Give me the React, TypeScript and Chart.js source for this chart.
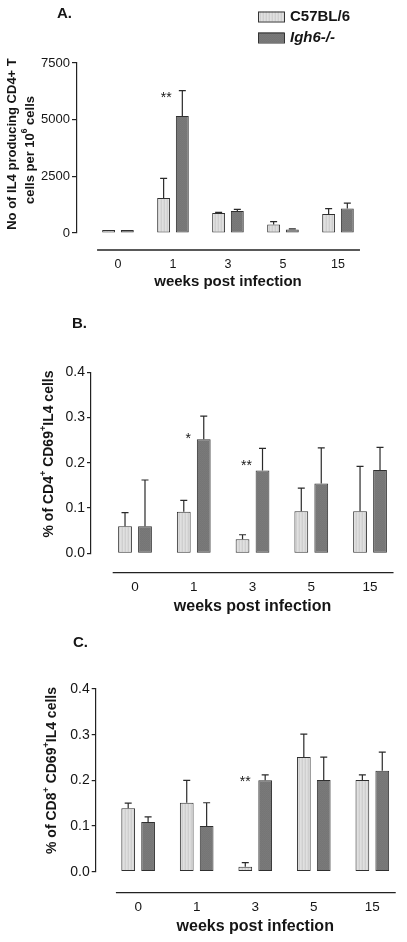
import React, { useEffect, useRef } from 'react';
import { Chart, registerables } from 'chart.js';

Chart.register(...registerables);

const FONT = "'Liberation Sans', Arial, Helvetica, sans-serif";
const INK = '#151515';
const LINE = '#222222';

// ---------- data ----------
const WEEKS = ['0', '1', '3', '5', '15'];
const SERIES = ['C57BL/6', 'Igh6-/-'];
const X_TITLE = 'weeks post infection';

// Panel A: No of IL4 producing CD4+ T cells per 10^6 cells
const A_WT = [45, 1545, 879, 379, 833];
const A_WT_SD = [0, 865, 30, 121, 243];
const A_KO = [45, 5160, 970, 152, 1076];
const A_KO_SD = [0, 1120, 75, 30, 242];
const A_Y_TICKS = [0, 2500, 5000, 7500];
const A_MARKS = [{ week: '1', value: 6130, text: '**' }];

// Panel B: % of CD4+ CD69+ IL4 cells
const B_WT = [0.06, 0.092, 0.031, 0.093, 0.093];
const B_WT_SD = [0.03, 0.025, 0.01, 0.051, 0.099];
const B_KO = [0.06, 0.252, 0.183, 0.154, 0.184];
const B_KO_SD = [0.102, 0.051, 0.049, 0.079, 0.05];
const B_MARKS = [
  { week: '1', value: 0.261, text: '*' },
  { week: '3', value: 0.201, text: '**' },
];

// Panel C: % of CD8+ CD69+ IL4 cells
const C_WT = [0.139, 0.151, 0.011, 0.251, 0.201];
const C_WT_SD = [0.011, 0.049, 0.009, 0.05, 0.011];
const C_KO = [0.109, 0.1, 0.2, 0.201, 0.221];
const C_KO_SD = [0.011, 0.051, 0.012, 0.05, 0.041];
const C_MARKS = [{ week: '3', value: 0.205, text: '**' }];

const BC_Y_TICKS = [0, 0.1, 0.2, 0.3, 0.4];

type Seg = { t: string; sup?: boolean };
const A_Y_TITLE: Seg[][] = [
  [{ t: 'No of IL4 producing CD4+ T' }],
  [{ t: 'cells per 10' }, { t: '6', sup: true }, { t: ' cells' }],
];
const B_Y_TITLE: Seg[][] = [
  [{ t: '% of CD4' }, { t: '+', sup: true }, { t: ' CD69' }, { t: '+', sup: true }, { t: 'IL4 cells' }],
];
const C_Y_TITLE: Seg[][] = [
  [{ t: '% of CD8' }, { t: '+', sup: true }, { t: ' CD69' }, { t: '+', sup: true }, { t: 'IL4 cells' }],
];

// ---------- layout ----------
const W = 407;
const PANELS = [
  {
    letter: 'A.', top: 0, height: 300,
    area: { left: 77, right: 363, top: 63, bottom: 233 }, xMin: -0.745, xMax: 4.455,
    wt: A_WT, wtSd: A_WT_SD, ko: A_KO, koSd: A_KO_SD, yTicks: A_Y_TICKS, yDec: 0, marks: A_MARKS,
    yTitle: A_Y_TITLE, yTitlePos: [[12, 144], [30, 150]], yTitleSize: 13,
    letterPos: [57, 14], letterSize: 15,
    yTickSize: 13, tickLen: 5, tickPad: 2,
    xTickSize: 12.5, xTickPad: 24.5, xLineGap: 17, xTitleY: 282, xTitleSize: 15,
    markDx: [2.5], legend: true, minBar: 3,
  },
  {
    letter: 'B.', top: 300, height: 320,
    area: { left: 91, right: 396, top: 72.3, bottom: 253.3 }, xMin: -0.749, xMax: 4.442,
    wt: B_WT, wtSd: B_WT_SD, ko: B_KO, koSd: B_KO_SD, yTicks: BC_Y_TICKS, yDec: 1, marks: B_MARKS,
    yTitle: B_Y_TITLE, yTitlePos: [[49, 154]], yTitleSize: 14,
    letterPos: [72, 24], letterSize: 15,
    yTickSize: 14, tickLen: 4, tickPad: 2,
    xTickSize: 13.5, xTickPad: 25.5, xLineGap: 19.4, xTitleY: 307, xTitleSize: 16,
    markDx: [4.5, 4], legend: false, minBar: 0,
  },
  {
    letter: 'C.', top: 620, height: 322,
    area: { left: 95.7, right: 405, top: 69, bottom: 251.7 }, xMin: -0.725, xMax: 4.451,
    wt: C_WT, wtSd: C_WT_SD, ko: C_KO, koSd: C_KO_SD, yTicks: BC_Y_TICKS, yDec: 1, marks: C_MARKS,
    yTitle: C_Y_TITLE, yTitlePos: [[52, 150.5]], yTitleSize: 14,
    letterPos: [73, 23], letterSize: 15,
    yTickSize: 14, tickLen: 4, tickPad: 2,
    xTickSize: 13.5, xTickPad: 27, xLineGap: 21, xTitleY: 307, xTitleSize: 16,
    markDx: [0], legend: false, minBar: 0,
  },
];

function makePattern(ctx: CanvasRenderingContext2D, kind: 'light' | 'dark') {
  const c = document.createElement('canvas');
  if (kind === 'light') {
    c.width = 3; c.height = 1;
    const g = c.getContext('2d')!;
    const cols = ['#e0e0e0', '#d9d9d9', '#cfcfcf'];
    cols.forEach((col, i) => { g.fillStyle = col; g.fillRect(i, 0, 1, 1); });
  } else {
    const tile = [
      [0x7a, 0x76],
      [0x75, 0x79],
    ];
    c.width = 2; c.height = 2;
    const g = c.getContext('2d')!;
    tile.forEach((row, y) => row.forEach((v, x) => {
      g.fillStyle = `rgb(${v},${v},${v})`;
      g.fillRect(x, y, 1, 1);
    }));
  }
  return ctx.createPattern(c, 'repeat')!;
}

function drawRich(ctx: CanvasRenderingContext2D, segs: Seg[], x: number, y: number, size: number) {
  ctx.save();
  ctx.translate(x, y);
  ctx.rotate(-Math.PI / 2);
  const fontFor = (sup?: boolean) => `bold ${sup ? size * 0.65 : size}px ${FONT}`;
  let total = 0;
  segs.forEach((s) => { ctx.font = fontFor(s.sup); total += ctx.measureText(s.t).width; });
  let cx = -total / 2;
  ctx.textAlign = 'left';
  ctx.textBaseline = 'middle';
  ctx.fillStyle = INK;
  segs.forEach((s) => {
    ctx.font = fontFor(s.sup);
    ctx.fillText(s.t, cx, s.sup ? -size * 0.38 : 0);
    cx += ctx.measureText(s.t).width;
  });
  ctx.restore();
}

function Panel({ p }: { p: any }) {
  const ref = useRef<HTMLCanvasElement>(null);
  useEffect(() => {
    const canvas = ref.current!;
    const ctx = canvas.getContext('2d')!;
    const light = makePattern(ctx, 'light');
    const dark = makePattern(ctx, 'dark');
    const fills = [light, dark];

    const decor = {
      id: 'decor',
      afterDatasetsDraw(chart: any) {
        const c = chart.ctx;
        const ys = chart.scales.y;
        c.save();
        const groups = [[p.wt, p.wtSd], [p.ko, p.koSd]];
        groups.forEach(([vals, sds]: any, d: number) => {
          const meta = chart.getDatasetMeta(d);
          meta.data.forEach((bar: any, i: number) => {
            const sd = sds[i];
            if (!sd) return;
            const x = bar.x;
            const y0 = ys.getPixelForValue(vals[i]);
            const y1 = ys.getPixelForValue(vals[i] + sd);
            c.strokeStyle = '#2a2a2a';
            c.lineWidth = 1.2;
            c.beginPath();
            c.moveTo(x, y0);
            c.lineTo(x, y1);
            c.moveTo(x - 3.5, y1);
            c.lineTo(x + 3.5, y1);
            c.stroke();
          });
        });
        // significance marks
        const meta0 = chart.getDatasetMeta(0);
        p.marks.forEach((m: any, k: number) => {
          const idx = WEEKS.indexOf(m.week);
          const x = meta0.data[idx].x + (p.markDx[k] || 0);
          const y = ys.getPixelForValue(m.value);
          c.font = `14px ${FONT}`;
          c.fillStyle = INK;
          c.textAlign = 'center';
          c.textBaseline = 'alphabetic';
          c.fillText(m.text, x, y + 14 * 0.58);
        });
        c.restore();
      },
      afterDraw(chart: any) {
        const c = chart.ctx;
        const xs = chart.scales.x;
        const area = chart.chartArea;
        c.save();
        // detached x axis line
        const yLine = area.bottom + p.xLineGap;
        c.strokeStyle = LINE;
        c.lineWidth = 1.3;
        c.beginPath();
        c.moveTo(xs.getPixelForValue(-0.38), yLine);
        c.lineTo(xs.getPixelForValue(4.4), yLine);
        c.stroke();
        // x title
        c.fillStyle = INK;
        c.font = `bold ${p.xTitleSize}px ${FONT}`;
        c.textAlign = 'center';
        c.textBaseline = 'middle';
        c.fillText(X_TITLE, xs.getPixelForValue(2), p.xTitleY);
        // panel letter
        c.font = `bold ${p.letterSize}px ${FONT}`;
        c.textAlign = 'left';
        c.fillText(p.letter, p.letterPos[0], p.letterPos[1]);
        // y title
        p.yTitle.forEach((segs: Seg[], i: number) => {
          drawRich(c, segs, p.yTitlePos[i][0], p.yTitlePos[i][1], p.yTitleSize);
        });
        // legend
        if (p.legend) {
          const boxYs = [11.5, 32.5];
          SERIES.forEach((name, i) => {
            c.fillStyle = fills[i];
            c.fillRect(258, boxYs[i], 26, 10);
            c.strokeStyle = '#333';
            c.lineWidth = 1;
            c.strokeRect(258.5, boxYs[i] + 0.5, 26, 10);
            c.fillStyle = INK;
            c.font = `${i === 1 ? 'italic ' : ''}bold 15px ${FONT}`;
            c.textAlign = 'left';
            c.textBaseline = 'middle';
            c.fillText(name, 290, boxYs[i] + 5.5);
          });
        }
        c.restore();
      },
    };

    const mk = (vals: number[]) => vals.map((y, i) => ({ x: i, y }));
    const common = {
      borderColor: '#303030', borderWidth: 1, borderSkipped: false,
      categoryPercentage: 0.68, barPercentage: 0.69, minBarLength: p.minBar,
    };
    const chart = new Chart(canvas, {
      type: 'bar',
      data: {
        datasets: [
          { label: SERIES[0], data: mk(p.wt), backgroundColor: light, ...common },
          { label: SERIES[1], data: mk(p.ko), backgroundColor: dark, ...common },
        ] as any,
      },
      options: {
        animation: false,
        responsive: false,
        devicePixelRatio: 1,
        layout: { padding: { left: 0, right: W - p.area.right, top: p.area.top, bottom: 0 } },
        plugins: { legend: { display: false }, tooltip: { enabled: false } },
        scales: {
          x: {
            type: 'linear',
            min: p.xMin,
            max: p.xMax,
            offset: false,
            afterBuildTicks: (s: any) => { s.ticks = WEEKS.map((_, i) => ({ value: i })); },
            afterFit: (s: any) => { s.height = p.height - p.area.bottom; },
            grid: { display: false, drawTicks: false },
            border: { display: false },
            ticks: {
              autoSkip: false,
              maxRotation: 0,
              padding: p.xTickPad,
              color: INK,
              font: { family: FONT, size: p.xTickSize },
              callback: (v: any) => WEEKS[v] ?? '',
            },
          },
          y: {
            min: p.yTicks[0],
            max: p.yTicks[p.yTicks.length - 1],
            afterBuildTicks: (s: any) => { s.ticks = p.yTicks.map((v: number) => ({ value: v })); },
            afterFit: (s: any) => { s.width = p.area.left; },
            border: { display: true, color: LINE, width: 1.2 },
            grid: { display: true, drawOnChartArea: false, drawTicks: true, tickLength: p.tickLen, color: LINE, lineWidth: 1.2 },
            ticks: {
              padding: p.tickPad,
              color: INK,
              font: { family: FONT, size: p.yTickSize },
              callback: (v: any) => Number(v).toFixed(p.yDec),
            },
          },
        },
      } as any,
      plugins: [decor],
    });
    return () => chart.destroy();
  }, [p]);
  return (
    <div style={{ position: 'absolute', left: 0, top: p.top, width: W, height: p.height }}>
      <canvas ref={ref} width={W} height={p.height} style={{ display: 'block', width: W, height: p.height }} />
    </div>
  );
}

export default function App() {
  return (
    <div style={{ position: 'absolute', left: 0, top: 0, width: W, height: 942, background: '#fff' }}>
      {PANELS.map((p) => <Panel key={p.letter} p={p} />)}
    </div>
  );
}
